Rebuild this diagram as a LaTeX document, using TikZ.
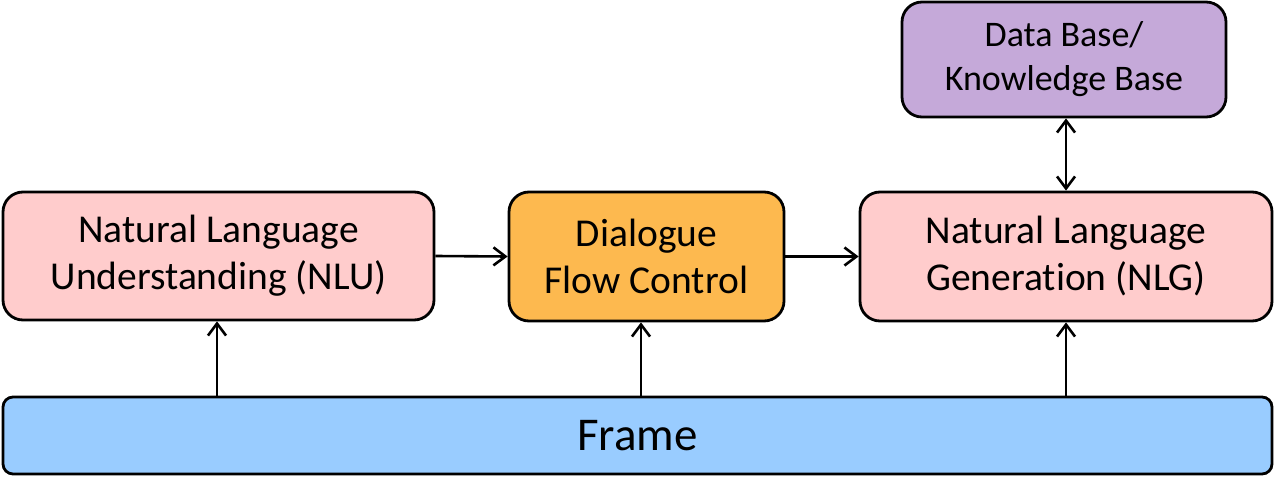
\documentclass[tikz,border=0pt]{standalone}
\usepackage{fontspec}
\setmainfont{Carlito}[Ligatures=NoCommon]
\usetikzlibrary{arrows.meta}
\definecolor{pinkbox}{HTML}{FFCCCC}
\definecolor{orangebox}{HTML}{FDB94F}
\definecolor{purplebox}{HTML}{C5A9D9}
\definecolor{bluebox}{HTML}{99CCFF}
\tikzset{
  box/.style={draw=black, line width=2.8pt, rounded corners=20pt, align=center, inner sep=0pt,
    font=\fontsize{39.5}{47}\selectfont},
  arr/.style={line width=2.6pt, -{Straight Barb[length=12pt,width=18pt,line width=2.6pt]}},
  darr/.style={line width=2.6pt, {Straight Barb[length=12pt,width=18pt,line width=2.6pt]}-{Straight Barb[length=12pt,width=18pt,line width=2.6pt]}}
}
\begin{document}
\begin{tikzpicture}[x=1pt,y=-1pt]
\useasboundingbox (0,0) rectangle (1276,492);
\node[box, fill=pinkbox, minimum width=431pt, minimum height=128pt] (NLU) at (218.5,256) {Natural Language\\Understanding (NLU)};
\node[box, fill=orangebox, minimum width=275pt, minimum height=129pt] (DFC) at (646.5,256.5) {Dialogue\\Flow Control};
\node[box, fill=pinkbox, minimum width=412pt, minimum height=129pt] (NLG) at (1066,256.5) {Natural Language\\Generation (NLG)};
\node[box, fill=purplebox, minimum width=324pt, minimum height=115pt, font=\fontsize{36}{44}\selectfont] (DB) at (1064,59.5) {Data Base/\\Knowledge Base};
\node[box, fill=bluebox, rounded corners=10pt, minimum width=1269pt, minimum height=77pt, font=\fontsize{47}{50}\selectfont] (FR) at (637.5,435.5) {Frame};
\draw[arr] (NLU.east) -- (DFC.west);
\draw[arr] (DFC.east) -- (NLG.west);
\draw[arr] ([xshift=-1.5pt]NLU.south |- FR.north) -- ([xshift=-1.5pt]NLU.south);
\draw[arr] ([xshift=-5.5pt]DFC.south |- FR.north) -- ([xshift=-5.5pt]DFC.south);
\draw[arr] (NLG.south |- FR.north) -- (NLG.south);
\draw[darr] (NLG.north |- DB.south) -- (NLG.north);
\end{tikzpicture}
\end{document}
